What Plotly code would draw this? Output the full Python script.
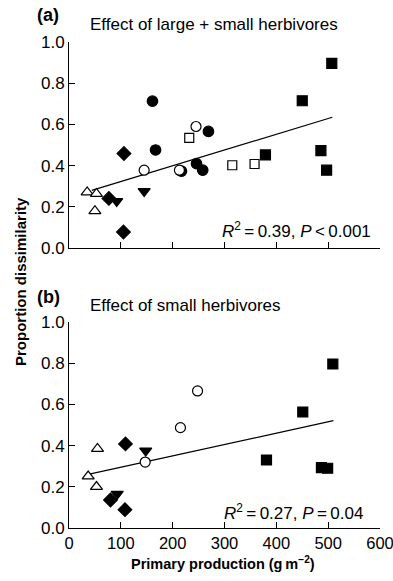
import plotly.graph_objects as go

# ---------------- data ----------------
# Panel (a): Effect of large + small herbivores
a_open_tri_x = [35, 53, 50]
a_open_tri_y = [0.271, 0.264, 0.18]
a_diamond_x = [77, 106, 105]
a_diamond_y = [0.241, 0.459, 0.078]
a_down_tri_x = [92, 145]
a_down_tri_y = [0.227, 0.276]
a_open_circ_x = [145, 213, 245]
a_open_circ_y = [0.378, 0.378, 0.59]
a_fill_circ_x = [161, 167, 217, 246, 258, 269]
a_fill_circ_y = [0.713, 0.476, 0.373, 0.41, 0.378, 0.566]
a_open_sq_x = [232, 315, 358]
a_open_sq_y = [0.535, 0.402, 0.408]
a_fill_sq_x = [379, 450, 486, 497, 507]
a_fill_sq_y = [0.452, 0.715, 0.473, 0.378, 0.896]
a_fit_x = [44, 508]
a_fit_y = [0.28, 0.635]

# Panel (b): Effect of small herbivores
b_open_tri_x = [37, 55, 53]
b_open_tri_y = [0.251, 0.385, 0.20]
b_diamond_x = [80, 109, 108]
b_diamond_y = [0.136, 0.408, 0.089]
b_down_tri_x = [93, 148]
b_down_tri_y = [0.165, 0.375]
b_open_circ_x = [147, 215, 248]
b_open_circ_y = [0.32, 0.487, 0.665]
b_fill_sq_x = [381, 451, 487, 499, 509]
b_fill_sq_y = [0.33, 0.563, 0.293, 0.29, 0.796]
b_fit_x = [37, 510]
b_fit_y = [0.26, 0.521]

x_ticks = [0, 100, 200, 300, 400, 500, 600]
y_ticks = [0.0, 0.2, 0.4, 0.6, 0.8, 1.0]
y_tick_text = ["0.0", "0.2", "0.4", "0.6", "0.8", "1.0"]

FONT = "Arial, Liberation Sans, Helvetica, sans-serif"

fig = go.Figure()


def add_line(x, y, xa, ya):
    fig.add_trace(go.Scatter(x=x, y=y, mode="lines", xaxis=xa, yaxis=ya,
                             line=dict(color="black", width=1.2),
                             hoverinfo="skip", showlegend=False))


def add_pts(x, y, symbol, filled, size, xa, ya):
    fig.add_trace(go.Scatter(
        x=x, y=y, mode="markers", xaxis=xa, yaxis=ya, cliponaxis=False,
        marker=dict(symbol=symbol, size=size,
                    color="black" if filled else "white",
                    line=dict(color="black", width=1.2)),
        showlegend=False))


# panel a
add_line(a_fit_x, a_fit_y, "x", "y")
add_pts(a_fill_circ_x, a_fill_circ_y, "circle", True, 10.5, "x", "y")
add_pts(a_fill_sq_x, a_fill_sq_y, "square", True, 10, "x", "y")
add_pts(a_diamond_x, a_diamond_y, "diamond", True, 10.5, "x", "y")
add_pts(a_down_tri_x, a_down_tri_y, "triangle-down", True, 10.5, "x", "y")
add_pts(a_open_circ_x, a_open_circ_y, "circle", False, 10, "x", "y")
add_pts(a_open_sq_x, a_open_sq_y, "square", False, 9, "x", "y")
add_pts(a_open_tri_x, a_open_tri_y, "triangle-up", False, 10.5, "x", "y")

# panel b
add_line(b_fit_x, b_fit_y, "x2", "y2")
add_pts(b_fill_sq_x, b_fill_sq_y, "square", True, 10, "x2", "y2")
add_pts(b_diamond_x, b_diamond_y, "diamond", True, 10.5, "x2", "y2")
add_pts(b_down_tri_x, b_down_tri_y, "triangle-down", True, 10.5, "x2", "y2")
add_pts(b_open_circ_x, b_open_circ_y, "circle", False, 10, "x2", "y2")
add_pts(b_open_tri_x, b_open_tri_y, "triangle-up", False, 10.5, "x2", "y2")

xaxis_common = dict(range=[0, 600], tickvals=x_ticks, ticks="inside", ticklen=6,
                    tickwidth=1, tickcolor="black", showline=True, linecolor="black",
                    linewidth=1, showgrid=False, zeroline=False, automargin=False,
                    ticklabeloverflow="allow",
                    tickfont=dict(family=FONT, size=16.5, color="black"))
yaxis_common = dict(range=[0, 1.0], tickvals=y_ticks, ticktext=y_tick_text,
                    ticks="inside", ticklen=6, tickwidth=1, tickcolor="black",
                    showline=True, linecolor="black", linewidth=1, showgrid=False,
                    zeroline=False, automargin=False, ticklabeloverflow="allow",
                    tickfont=dict(family=FONT, size=17, color="black"))

TOP_A = 1.0
BOT_A = 0.576
TOP_B = 0.424

fig.update_layout(
    width=393, height=581,
    margin=dict(l=69, r=13, t=42, b=53, autoexpand=False),
    paper_bgcolor="white", plot_bgcolor="white",
    showlegend=False,
    font=dict(family=FONT, color="black"),
    xaxis=dict(xaxis_common, domain=[0, 1], anchor="y", showticklabels=False),
    yaxis=dict(yaxis_common, domain=[BOT_A, TOP_A], anchor="x"),
    xaxis2=dict(xaxis_common, domain=[0, 1], anchor="y2"),
    yaxis2=dict(yaxis_common, domain=[0, TOP_B], anchor="x2"),
)

ann = [
    dict(text="<b>(a)</b>", x=-0.0675, y=1.0556, xref="paper", yref="paper",
         xanchor="center", yanchor="middle", showarrow=False, font=dict(size=18)),
    dict(text="<b>(b)</b>", x=-0.0675, y=0.475, xref="paper", yref="paper",
         xanchor="center", yanchor="middle", showarrow=False, font=dict(size=18)),
    dict(text="Effect of large + small herbivores", x=0.061, y=1.035, xref="paper",
         yref="paper", xanchor="left", yanchor="middle", showarrow=False,
         font=dict(size=17)),
    dict(text="Effect of small herbivores", x=0.061, y=0.4568, xref="paper",
         yref="paper", xanchor="left", yanchor="middle", showarrow=False,
         font=dict(size=17)),
    dict(text="<i>R</i><sup>2</sup>\u2009=\u20090.39, <i>P</i>\u2009&lt;\u20090.001",
         x=0.9775, y=0.09, xref="paper", yref="y", xanchor="right",
         yanchor="middle", showarrow=False, font=dict(size=17)),
    dict(text="<i>R</i><sup>2</sup>\u2009=\u20090.27, <i>P</i>\u2009=\u20090.04",
         x=0.952, y=0.077, xref="paper", yref="y2", xanchor="right",
         yanchor="middle", showarrow=False, font=dict(size=17)),
    dict(text="<b>Primary production (g\u2009m<sup>\u22122</sup>)</b>", x=0.495,
         y=-0.072, xref="paper", yref="paper", xanchor="center", yanchor="middle",
         showarrow=False, font=dict(size=14.5)),
    dict(text="<b>Proportion dissimilarity</b>", x=-0.158, y=0.508, xref="paper",
         yref="paper", xanchor="center", yanchor="middle", textangle=-90,
         showarrow=False, font=dict(size=15)),
]
fig.update_layout(annotations=ann)

fig.write_html("out.html",
               config={"displayModeBar": False},
               post_script="document.body.style.margin='0';"
                           "document.body.style.padding='0';")
